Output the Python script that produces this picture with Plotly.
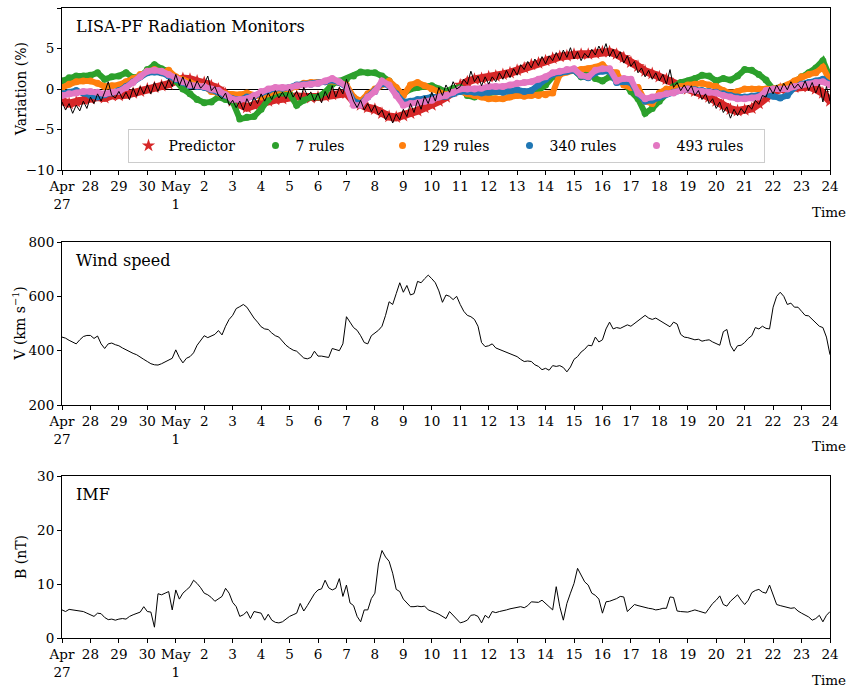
import pandas as pd
import plotly.graph_objects as go
from plotly.subplots import make_subplots

# ---------------- data ----------------
t_band = pd.date_range("2016-04-27", "2016-05-24", freq="6h")   # 109 points
t_line = pd.date_range("2016-04-27", "2016-05-24", freq="3h")   # 217 points

predictor = [
    -1.5, -1.8, -1.6, -1.3, -1.2, -1.0, -1.1, -0.8, -0.8, -0.7, -0.5, -0.3,
    0.0, 0.2, 0.4, 0.6, 1.0, 1.3, 1.2, 1.0, 0.8, 0.4, 0.0, -0.6,
    -1.5, -2.0, -2.3, -2.0, -1.7, -1.5, -1.3, -1.2, -1.0, -0.9, -1.0, -1.1,
    -1.0, -0.9, -0.7, -0.5, -0.5, -1.5, -2.0, -2.3, -2.5, -3.0, -3.4, -3.5,
    -3.3, -3.0, -2.7, -2.3, -2.0, -1.5, -1.0, -0.3, 0.5, 0.9, 1.2, 1.3,
    1.5, 1.6, 1.8, 2.0, 2.3, 2.6, 3.0, 3.2, 3.5, 3.8, 4.0, 4.1,
    4.3, 4.3, 4.3, 4.4, 4.6, 4.6, 4.3, 3.9, 3.3, 2.8, 2.2, 1.9,
    1.5, 1.2, 0.6, 0.3, 0.0, -0.3, -0.6, -1.0, -1.5, -2.0, -2.5, -2.7,
    -2.6, -2.4, -1.8, -1.0, -0.4, 0.0, 0.1, 0.2, 0.3, 0.3, 0.0, -0.5,
    -1.5,
]
rules_7 = [
    1.0, 1.4, 1.6, 1.6, 1.7, 2.0, 1.2, 1.5, 1.6, 2.0, 1.4, 1.6,
    2.4, 3.0, 2.5, 2.2, 1.0, 0.0, -0.6, -1.3, -1.7, -1.6, -1.0, -1.3,
    -1.6, -3.7, -3.5, -3.4, -2.5, -1.3, -0.6, -0.5, -0.6, -2.0, -1.4, -1.0,
    -1.0, -0.4, 0.6, 1.0, 1.2, 1.6, 2.1, 2.0, 2.0, 1.6, 1.0, -0.2,
    -0.6, 0.0, 0.2, 0.3, 0.4, 0.0, -0.3, 0.1, 0.2, -0.8, -1.0, -0.6,
    -0.5, -0.3, -0.3, -0.3, -0.3, -0.5, -0.6, -0.2, 0.5, 1.5, 2.0, 2.3,
    2.3, 1.5, 2.0, 1.3, 1.0, 1.5, 1.2, 0.8, -0.3, -1.2, -3.0, -2.4,
    -1.5, -0.5, 0.3, 0.8, 1.0, 1.3, 1.7, 1.6, 1.0, 1.3, 1.1, 1.6,
    2.4, 2.3, 1.8, 1.1, 0.0, 0.2, 0.4, 0.9, 1.5, 2.0, 2.6, 3.5,
    1.5,
]
rules_129 = [
    0.2, 0.6, 0.9, 1.0, 1.0, 0.7, 0.3, 0.4, 0.5, 0.9, 1.3, 1.8,
    2.2, 2.4, 2.0, 2.3, 1.5, 1.1, 0.8, 0.5, 0.3, -0.3, -0.5, -0.6,
    -0.7, -0.7, -0.5, -0.8, -1.0, -0.6, -0.2, 0.0, 0.0, 0.3, 0.7, 0.8,
    0.8, 0.9, 1.0, 0.8, 0.5, -1.0, -1.5, -0.6, 0.0, 0.6, 1.0, 0.2,
    -0.8, 0.5, 0.8, 0.4, 0.0, -0.5, -0.7, -0.5, -0.3, -0.6, -0.8, -1.0,
    -1.2, -1.2, -1.2, -1.0, -0.8, -0.9, -0.8, -0.8, -0.7, -0.5, 1.8, 2.1,
    2.3, 2.4, 2.5, 2.7, 3.0, 2.2, 2.0, 0.5, 0.2, 0.2, -1.5, -1.8,
    -0.5, 0.0, 0.0, 0.3, 0.5, 0.6, 0.7, 0.5, 0.3, -0.2, -0.5, -0.3,
    0.0, 0.0, 0.0, 0.0, 0.0, 0.2, 0.5, 1.0, 1.5, 1.8, 2.0, 2.7,
    1.0,
]
rules_340 = [
    -0.6, -0.4, -0.2, -0.5, -0.8, -1.0, -0.7, -0.5, -0.2, 0.3, 0.9, 1.5,
    2.0, 2.1, 2.0, 1.6, 1.2, 0.8, 0.4, 0.3, 0.2, -0.1, -0.4, -0.8,
    -1.2, -1.3, -1.0, -0.9, -0.5, -0.2, 0.1, 0.1, 0.2, 0.5, 0.6, 0.6,
    0.7, 0.9, 1.1, 0.8, 0.2, -1.5, -1.8, -1.0, -0.3, 0.7, 0.4, -0.6,
    -1.6, -1.5, -1.3, -1.2, -1.0, -1.0, -0.9, -0.6, -0.3, -0.3, -0.4, -0.5,
    -0.4, -0.3, -0.4, -0.2, -0.1, -0.3, -0.2, 0.5, 1.2, 1.8, 2.0, 2.2,
    2.3, 1.6, 1.4, 2.0, 2.2, 2.2, 0.8, 0.9, 0.8, -0.6, -1.5, -1.4,
    -1.0, -0.6, -0.4, -0.2, 0.0, -0.1, -0.2, -0.3, -0.4, -0.6, -0.8, -1.0,
    -1.0, -0.9, -0.8, -0.6, -0.9, -1.1, -0.8, 0.2, 0.6, 0.8, 1.0, 1.2,
    0.6,
]
rules_493 = [
    -0.8, -0.6, -0.5, -0.3, -0.3, -0.4, -0.6, -0.4, -0.3, 0.2, 0.8, 1.5,
    2.2, 2.3, 2.2, 1.8, 1.3, 0.9, 0.5, 0.4, 0.3, 0.0, -0.2, -0.7,
    -1.3, -1.3, -1.2, -0.8, -0.3, 0.0, 0.2, 0.2, 0.2, 0.4, 0.5, 0.6,
    0.7, 1.0, 1.3, 0.9, 0.3, -2.0, -2.0, -1.0, -0.3, 1.0, 0.5, -0.8,
    -2.0, -1.8, -1.7, -1.5, -1.4, -1.0, -0.8, -0.4, 0.0, 0.0, 0.0, 0.1,
    0.3, 0.3, 0.3, 0.5, 0.7, 0.8, 0.9, 1.2, 1.5, 2.0, 2.2, 2.4,
    2.5, 1.7, 1.5, 2.3, 2.5, 2.5, 1.0, 1.3, 1.2, -0.5, -1.2, -1.0,
    -0.8, -0.6, -0.5, -0.2, 0.0, -0.2, -0.3, -0.4, -0.5, -0.8, -1.0, -1.2,
    -1.2, -1.1, -1.0, -0.2, 0.0, 0.0, 0.0, 0.3, 0.5, 0.6, 0.8, 0.9,
    0.5,
]
observed = [
    -1.6, -2.6, -1.8, -3.0, -2.0, -2.7, -1.5, -2.4,
    -1.0, -1.8, -0.6, -1.5, -0.4, 0.9, -0.8, -1.1,
    -0.3, -1.2, -0.4, -1.3, 0.1, -0.9, 0.3, -0.6,
    0.5, -0.6, 0.8, -0.3, 0.9, 0.0, 1.2, 0.3,
    1.8, 0.4, 1.5, 0.2, 1.2, -0.1, 1.0, 0.1,
    0.6, 1.6, -0.2, 0.3, -0.8, -1.2, -0.5, -2.0,
    -1.4, -2.3, -1.5, -2.6, -1.2, -2.1, -1.0, -1.8,
    -0.6, -1.5, -0.5, -1.3, -0.2, -1.1, -0.4, -1.2,
    0.0, -1.0, -0.3, -1.3, 0.2, -0.8, -0.4, -1.5,
    -0.5, -1.7, -0.3, -1.2, 0.4, -1.0, 0.2, -0.6,
    1.2, -0.2, -1.5, -2.3, -1.4, -2.6, -1.8, -2.8,
    -2.0, -3.2, -2.6, -3.8, -3.0, -4.2, -3.1, -3.8,
    -2.5, -3.4, -1.8, -2.9, -1.4, -2.5, -0.9, -1.8,
    -0.4, -1.5, 0.2, -0.8, 0.5, -0.4, 0.9, 0.0,
    0.3, 1.2, 0.6, 2.2, 0.9, 1.6, 0.4, 1.5,
    0.6, 1.5, 0.9, 2.0, 1.2, 2.3, 1.4, 2.5,
    1.7, 3.0, 2.4, 3.4, 2.6, 3.7, 2.9, 4.0,
    3.1, 4.1, 3.5, 4.5, 3.6, 4.8, 3.9, 5.1,
    3.7, 4.6, 3.5, 4.4, 3.9, 4.9, 4.2, 5.3,
    4.4, 5.6, 4.0, 4.9, 3.8, 4.6, 3.2, 4.1,
    2.8, 3.4, 2.0, 2.6, 1.5, 2.3, 1.2, 2.0,
    1.0, 1.8, 0.6, 2.4, 0.2, 0.8, -0.2, 0.5,
    -0.3, 0.4, -0.8, -0.2, -1.3, -0.6, -1.8, -1.2,
    -2.4, -1.6, -2.9, -2.2, -3.6, -2.5, -3.3, -2.4,
    -3.0, -2.0, -2.5, -1.4, -1.9, -0.8, -1.0, 0.2,
    -0.6, 0.5, -0.3, 0.7, -0.1, 0.9, 0.1, 0.6,
    0.0, 1.0, -0.2, 0.8, -0.5, 0.6, -1.6, 0.3,
    -1.5,
]
wind_speed = [
    450, 446, 438, 430, 425, 440, 452, 456,
    456, 445, 454, 425, 408, 425, 428, 422,
    418, 410, 403, 395, 390, 385, 375, 368,
    360, 352, 348, 347, 352, 358, 365, 372,
    403, 375, 355, 372, 378, 392, 420, 440,
    455, 448, 455, 460, 474, 458, 490, 515,
    530, 555, 562, 570, 560, 540, 520, 505,
    488, 480, 478, 465, 455, 450, 435, 420,
    410, 402, 398, 385, 373, 370, 375, 398,
    380, 380, 378, 375, 408, 405, 400, 425,
    525, 505, 485, 475, 455, 430, 425, 455,
    465, 475, 490, 530, 580, 570, 610, 650,
    615, 640, 605, 610, 655, 650, 665, 678,
    665, 650, 620, 578, 605, 600, 588, 600,
    570, 545, 530, 525, 515, 490, 430, 415,
    418, 425, 410, 405, 400, 395, 390, 385,
    378, 368, 360, 362, 360, 348, 342, 330,
    335, 328, 345, 342, 345, 338, 322, 340,
    368, 378, 395, 405, 420, 418, 450, 432,
    440, 480, 505, 480, 485, 482, 490, 495,
    490, 500, 510, 518, 530, 520, 515, 520,
    512, 505, 495, 488, 505, 498, 460, 450,
    448, 445, 440, 442, 435, 438, 440, 432,
    425, 420, 470, 478, 420, 398, 418, 420,
    430, 445, 455, 485, 480, 490, 482, 480,
    560, 600, 615, 600, 570, 575, 560, 560,
    545, 530, 528, 515, 500, 490, 485, 450,
    385,
]
imf = [
    5.2, 4.9, 5.3, 5.2, 5.1, 5.1, 4.9, 4.6,
    4.3, 4.0, 4.6, 4.5, 3.8, 3.4, 3.5, 3.3,
    3.5, 3.6, 3.5, 4.0, 4.3, 4.6, 4.8, 5.8,
    4.9, 4.8, 2.0, 8.2, 8.0, 8.3, 8.6, 5.2,
    8.9, 7.2, 8.3, 8.9, 9.5, 10.7, 10.1, 9.3,
    8.3, 8.0, 7.5, 6.8, 7.2, 7.7, 9.2, 8.3,
    6.6, 5.8, 4.0, 4.3, 4.9, 3.6, 4.9, 4.7,
    4.6, 3.3, 4.4, 3.3, 2.9, 2.8, 3.0, 3.5,
    4.0, 4.3, 4.6, 6.4, 5.0, 6.0, 7.0, 8.2,
    8.9, 9.1, 10.7, 9.3, 8.9, 9.2, 11.0, 7.7,
    9.8, 6.5, 6.0, 4.0, 3.0, 5.2, 5.2, 7.3,
    8.3, 13.7, 16.2, 15.0, 14.2, 12.0, 9.0, 8.6,
    7.2, 6.5, 5.8, 5.8, 5.9, 5.8, 5.9, 5.2,
    5.0, 4.7, 4.4, 4.0, 3.6, 4.9, 4.2, 3.4,
    2.8, 3.0, 3.3, 4.2, 4.3, 4.0, 2.8, 4.2,
    3.7, 4.9, 4.7, 4.9, 5.0, 5.2, 5.4, 5.5,
    5.7, 5.8, 5.6, 6.0, 6.7, 6.7, 6.6, 7.0,
    6.4, 5.8, 5.2, 9.5, 5.8, 3.3, 6.4, 8.3,
    10.1, 12.9, 11.6, 10.4, 9.8, 8.3, 7.9, 7.2,
    4.6, 6.7, 6.8, 7.0, 7.3, 7.7, 7.6, 4.9,
    5.6, 6.2, 6.0, 5.8, 5.7, 5.5, 5.4, 5.2,
    5.3, 5.5, 5.5, 7.6, 7.5, 5.0, 4.9, 4.9,
    4.8, 5.0, 5.2, 5.0, 4.8, 4.6, 5.5, 6.4,
    7.0, 7.8, 6.2, 5.9, 6.8, 7.5, 8.0, 7.0,
    6.2, 7.0, 8.4, 8.8, 9.0, 8.5, 8.3, 9.8,
    8.0, 6.2, 6.0, 5.8, 5.7, 5.5, 5.6, 5.0,
    4.6, 4.3, 3.9, 3.3, 3.6, 4.2, 3.0, 4.2,
    4.9,
]

tick_dates = pd.date_range("2016-04-27", "2016-05-24", freq="D")
tick_text = [
    (d.strftime("%b") + "<br>" + str(d.day)) if (i == 0 or d.day == 1) else str(d.day)
    for i, d in enumerate(tick_dates)
]

series_names = ["7 rules", "129 rules", "340 rules", "493 rules"]
series_values = [rules_7, rules_129, rules_340, rules_493]
series_colors = ["#2ca02c", "#ff7f0e", "#1f77b4", "#e377c2"]

# ---------------- figure ----------------
SERIF = "DejaVu Serif"
W, H = 850, 688
ML, MR, MT, MB = 62, 20, 8, 50
PW, PH = W - ML - MR, H - MT - MB


def px_x(x):
    return (x - ML) / PW


def px_y(y):
    return (H - MB - y) / PH


fig = make_subplots(rows=3, cols=1, shared_xaxes=False, vertical_spacing=0.0)

# predictor band (thick line underneath to close gaps) + star markers
fig.add_trace(go.Scatter(
    x=t_band, y=predictor, mode="lines", showlegend=False, hoverinfo="skip",
    line=dict(color="#d62728", width=8),
), row=1, col=1)
fig.add_trace(go.Scatter(
    x=t_band, y=predictor, mode="markers", name="Predictor",
    marker=dict(symbol="star", size=10, color="#d62728", line=dict(width=0)),
), row=1, col=1)
for nm, vals, col in zip(series_names, series_values, series_colors):
    fig.add_trace(go.Scatter(
        x=t_band, y=vals, mode="lines", showlegend=False, hoverinfo="skip",
        line=dict(color=col, width=6),
    ), row=1, col=1)
    fig.add_trace(go.Scatter(
        x=t_band, y=vals, mode="markers", name=nm,
        marker=dict(symbol="circle", size=7, color=col, line=dict(width=0)),
    ), row=1, col=1)
fig.add_trace(go.Scatter(
    x=t_line, y=observed, mode="lines", showlegend=False,
    line=dict(color="black", width=1),
), row=1, col=1)
fig.add_trace(go.Scatter(
    x=t_line, y=wind_speed, mode="lines", showlegend=False,
    line=dict(color="black", width=1),
), row=2, col=1)
fig.add_trace(go.Scatter(
    x=t_line, y=imf, mode="lines", showlegend=False,
    line=dict(color="black", width=1),
), row=3, col=1)

panel_px = [(8, 170), (242, 405), (476, 638)]
domains = [[px_y(b), px_y(t)] for t, b in panel_px]
yranges = [[-10, 10], [200, 800], [0, 30]]
ytickvals = [[-10, -5, 0, 5, 10], [200, 400, 600, 800], [0, 10, 20, 30]]
ytitles = ["Variation (%)", "V (km s<sup>−1</sup>)", "B (nT)"]
ytitle_x = [21, 19, 21]

axis_common = dict(
    showline=True, linecolor="black", linewidth=1, mirror=True,
    ticks="outside", ticklen=4, tickwidth=1, tickcolor="black",
    showgrid=False, automargin=False,
    tickfont=dict(family=SERIF, size=13.5, color="black"),
)
for i in range(3):
    fig.update_xaxes(
        range=[tick_dates[0], tick_dates[-1]], tickvals=tick_dates, ticktext=tick_text,
        tickangle=0, row=i + 1, col=1, **axis_common,
    )
    fig.update_yaxes(
        domain=domains[i], range=yranges[i], tickvals=ytickvals[i],
        zeroline=(i == 0), zerolinecolor="black", zerolinewidth=1,
        row=i + 1, col=1, **axis_common,
    )
    top, bot = panel_px[i]
    fig.add_annotation(
        text=ytitles[i], xref="paper", yref="paper",
        x=px_x(ytitle_x[i]), y=px_y((top + bot) / 2),
        xanchor="center", yanchor="middle", textangle=-90, showarrow=False,
        font=dict(family=SERIF, size=14, color="black"),
    )

panel_labels = ["LISA-PF Radiation Monitors", "Wind speed", "IMF"]
for i, txt in enumerate(panel_labels):
    top, bot = panel_px[i]
    fig.add_annotation(
        text=txt, xref="paper", yref="paper", x=px_x(74), y=px_y(top + 18),
        xanchor="left", yanchor="middle", showarrow=False,
        font=dict(family=SERIF, size=16, color="black"),
    )

for ypix in [212, 446, 680]:
    fig.add_annotation(
        text="Time", xref="paper", yref="paper", x=px_x(848), y=px_y(ypix),
        xanchor="right", yanchor="middle", showarrow=False,
        font=dict(family=SERIF, size=13.5, color="black"),
    )

fig.update_layout(
    width=W, height=H,
    margin=dict(l=ML, r=MR, t=MT, b=MB, autoexpand=False),
    paper_bgcolor="white", plot_bgcolor="white",
    showlegend=True,
    legend=dict(
        orientation="h", x=px_x(446), xanchor="center", y=px_y(163), yanchor="bottom",
        bgcolor="rgba(255,255,255,0.8)", bordercolor="#cccccc", borderwidth=1,
        font=dict(family=SERIF, size=14, color="black"),
        entrywidth=82, tracegroupgap=0,
    ),
)

fig.write_html(
    "out.html",
    config={"displayModeBar": False},
    post_script="document.body.style.margin='0';document.body.style.overflow='hidden';",
)
